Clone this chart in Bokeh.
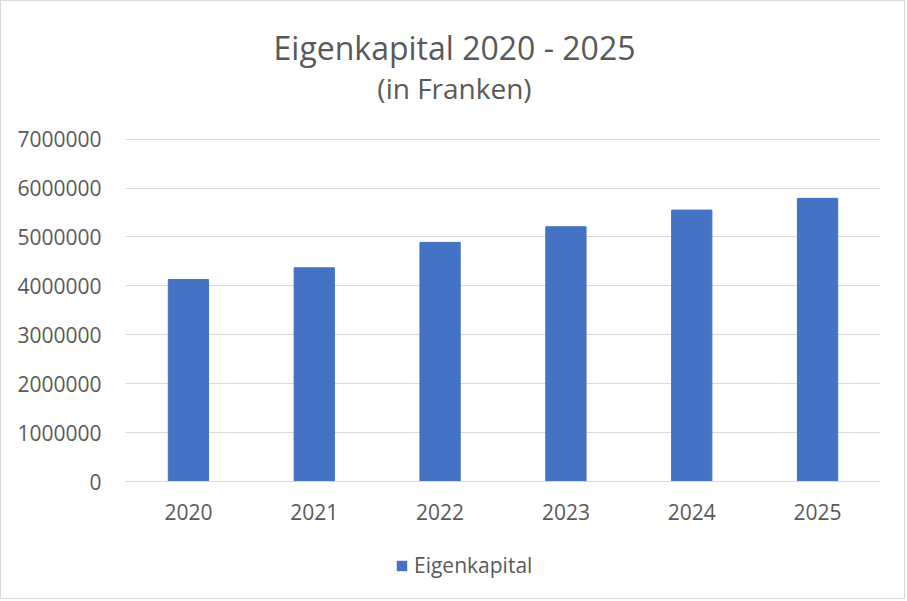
from bokeh.plotting import figure
from bokeh.layouts import column
from bokeh.models import FixedTicker, NumeralTickFormatter, Legend, LegendItem, ColumnDataSource, Range1d
from bokeh.core.properties import value
from bokeh.embed import file_html
from bokeh.resources import INLINE

years = ["2020", "2021", "2022", "2023", "2024", "2025"]
eigenkapital = [4130000, 4370000, 4890000, 5210000, 5550000, 5790000]
y_ticks = [0, 1000000, 2000000, 3000000, 4000000, 5000000, 6000000, 7000000]
title_text = "Eigenkapital 2020 - 2025"
subtitle_text = "(in Franken)"
series_name = "Eigenkapital"

FONT = "Open Sans"
GRAY = "#595959"
BLUE = "#4472c4"
W = 903
FRAME_W = 755


def blank(height):
    # frames of the column's figures are aligned with the chart's frame (755 px wide)
    f = figure(width=W, height=height, x_range=Range1d(0, FRAME_W), y_range=Range1d(height, 0),
               x_axis_type=None, y_axis_type=None, output_backend="svg", toolbar_location=None,
               min_border=0)
    f.outline_line_color = None
    f.xgrid.grid_line_color = None
    f.ygrid.grid_line_color = None
    return f


# header with title and subtitle
header = blank(118)
header.text(x=[329], y=[46], text=[title_text], text_font=value(FONT), text_font_size="32px",
            text_color=GRAY, text_align="center", text_baseline="middle")
header.text(x=[329], y=[86], text=[subtitle_text], text_font=value(FONT), text_font_size="28px",
            text_color=GRAY, text_align="center", text_baseline="middle")

# main chart
src = ColumnDataSource(data=dict(x=years, y=eigenkapital))
p = figure(x_range=years, y_range=(0, 7014000), frame_width=FRAME_W, frame_height=343,
           output_backend="svg", toolbar_location=None, title=None,
           min_border_left=124, min_border_right=24, min_border_top=19, min_border_bottom=50)
r = p.vbar(x="x", top="y", width=0.32, source=src, color=BLUE)

p.xgrid.grid_line_color = None
p.ygrid.grid_line_color = "#d9d9d9"
p.ygrid.grid_line_width = 1
p.outline_line_color = None

p.yaxis.ticker = FixedTicker(ticks=y_ticks)
p.yaxis.formatter = NumeralTickFormatter(format="0")
p.yaxis.axis_line_color = None
p.yaxis.major_tick_line_color = None
p.yaxis.minor_tick_line_color = None
p.yaxis.major_label_text_font = FONT
p.yaxis.major_label_text_font_size = "21px"
p.yaxis.major_label_text_color = GRAY
p.yaxis.major_label_standoff = 18

p.xaxis.axis_line_color = "#d9d9d9"
p.xaxis.major_tick_line_color = None
p.xaxis.minor_tick_line_color = None
p.xaxis.major_label_text_font = FONT
p.xaxis.major_label_text_font_size = "21px"
p.xaxis.major_label_text_color = GRAY
p.xaxis.major_label_standoff = 16

# legend strip (proxy renderer of zero size gives the legend its swatch)
leg_fig = blank(67)
leg_fig.y_range = Range1d(0, 1)
leg_r = leg_fig.vbar(x=[0], top=[0], bottom=[0], width=0, fill_color=BLUE, line_alpha=0)
legend = Legend(items=[LegendItem(label=series_name, renderers=[leg_r])], orientation="horizontal",
                location=(270, 19), label_text_font=FONT, label_text_font_size="21px",
                label_text_color=GRAY, border_line_color=None, background_fill_alpha=0,
                glyph_width=13, glyph_height=13, label_standoff=6, padding=0, margin=0)
leg_fig.add_layout(legend, "center")

layout = column(header, p, leg_fig, spacing=0, styles={"border": "1px solid #d9d9d9"})

open("out.html", "w").write(file_html(layout, INLINE))
